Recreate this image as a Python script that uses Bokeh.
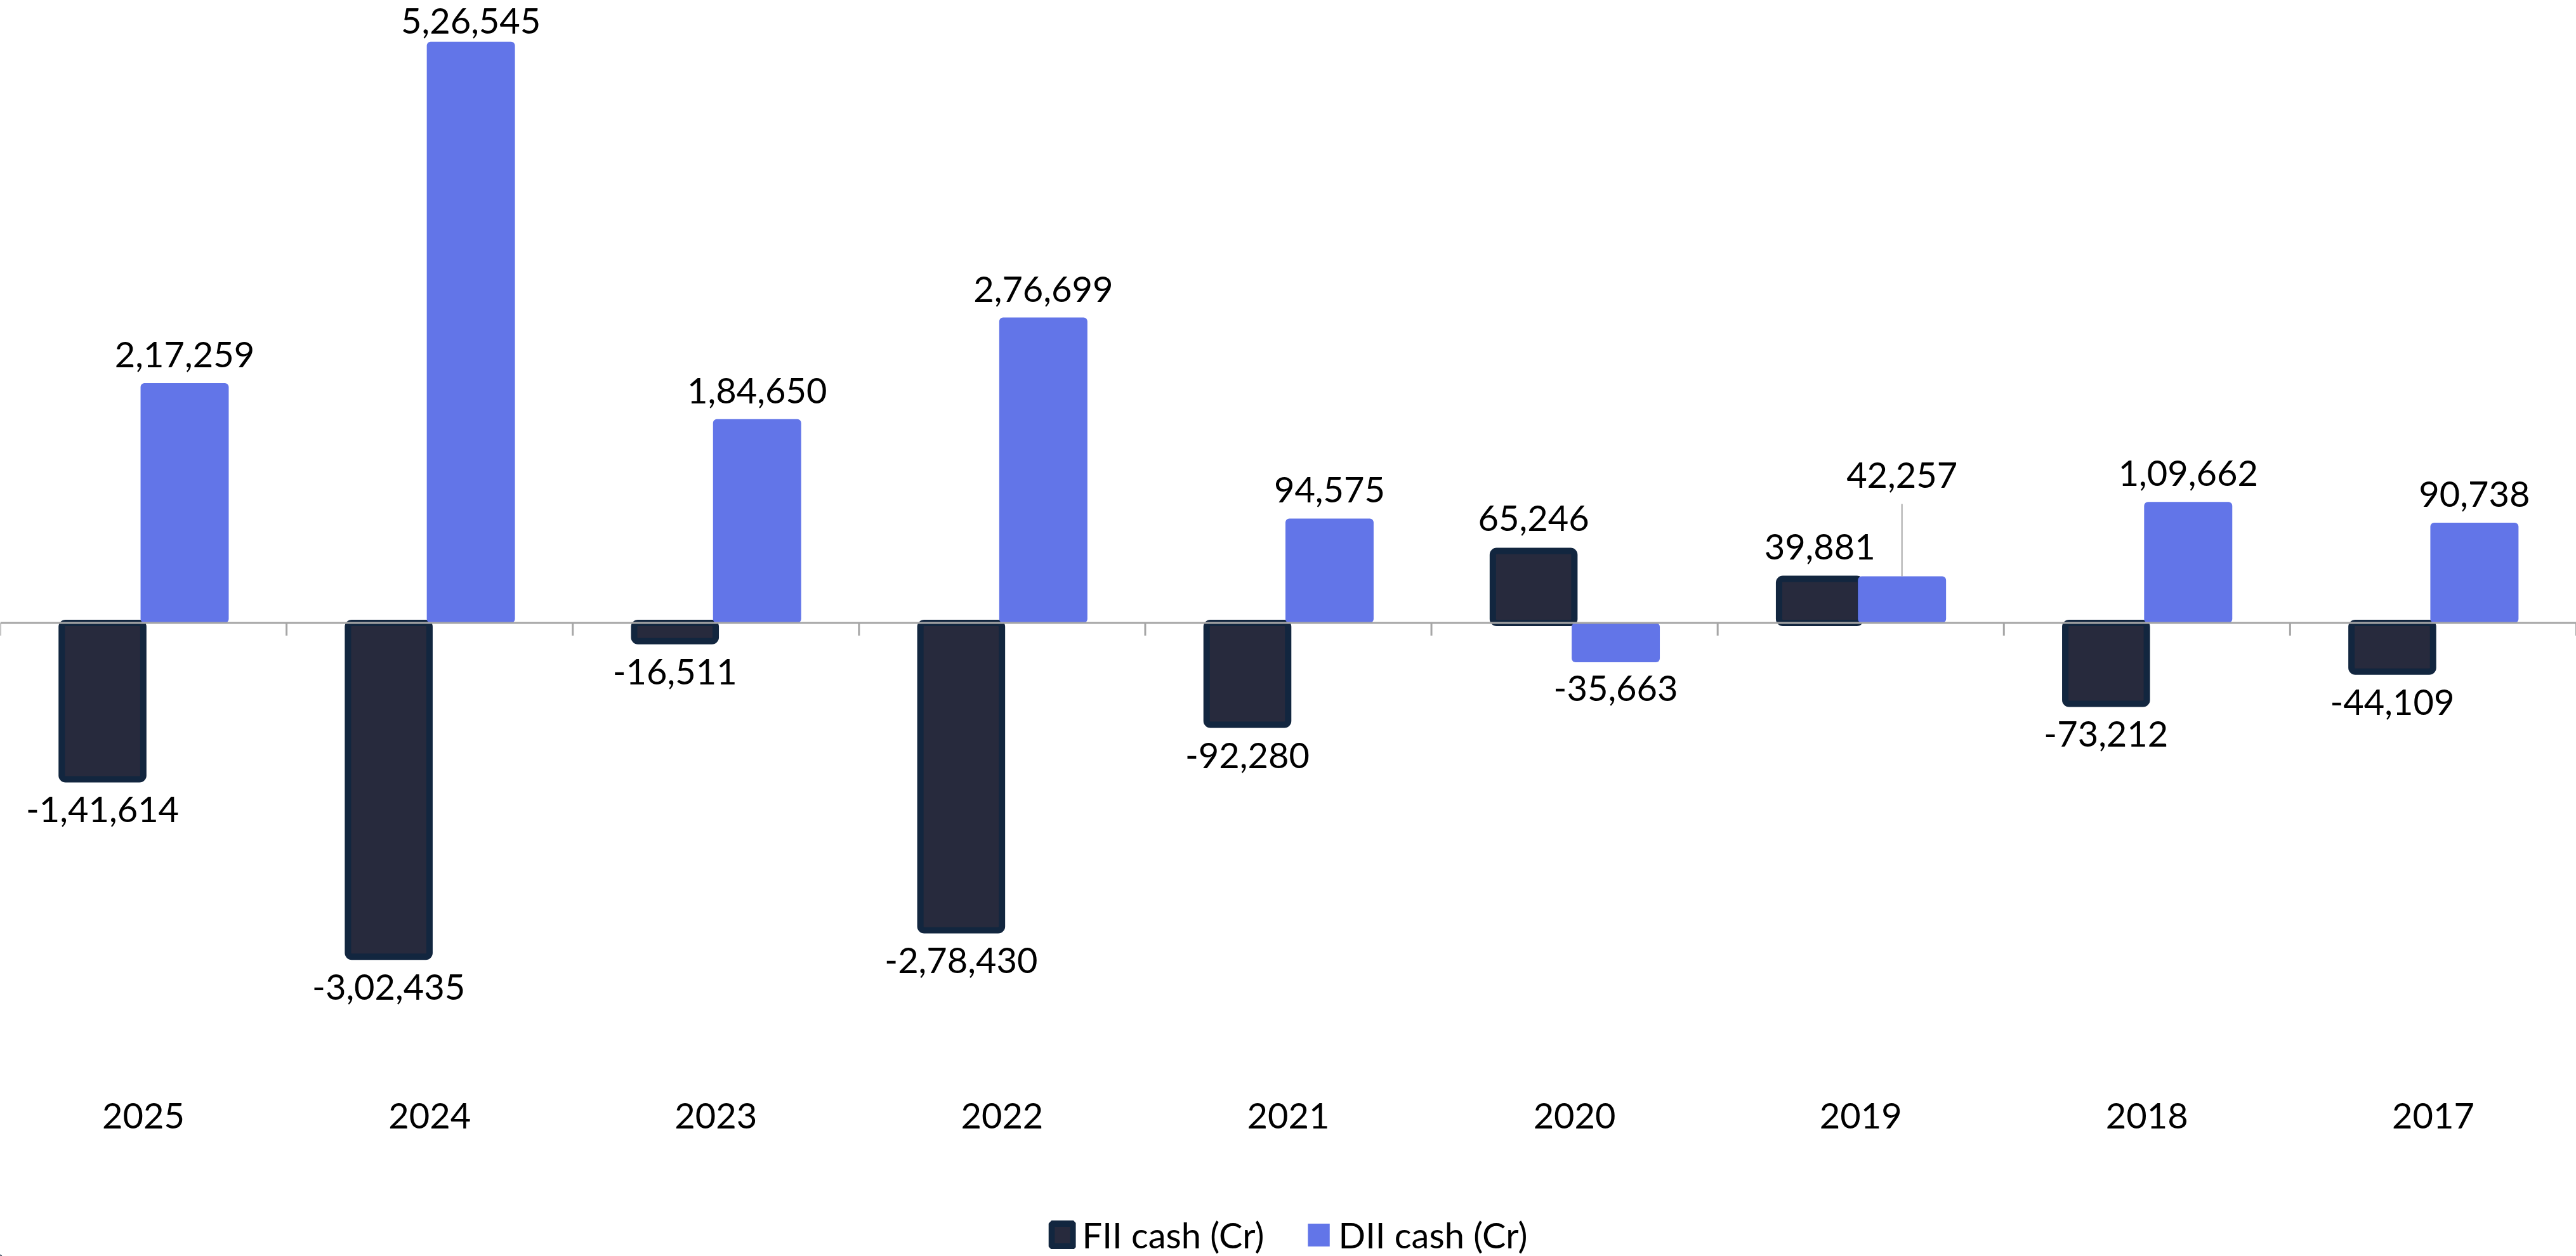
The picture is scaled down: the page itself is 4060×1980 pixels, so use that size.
from bokeh.plotting import figure
from bokeh.layouts import column
from bokeh.models import (Range1d, FixedTicker, Span, Legend, LegendItem, ColumnDataSource)
from bokeh.core.properties import value
from bokeh.embed import file_html
from bokeh.resources import INLINE

years = ["2025", "2024", "2023", "2022", "2021", "2020", "2019", "2018", "2017"]
fii_cash = [-141614, -302435, -16511, -278430, -92280, 65246, 39881, -73212, -44109]
dii_cash = [217259, 526545, 184650, 276699, 94575, -35663, 42257, 109662, 90738]
series_names = ["FII cash (Cr)", "DII cash (Cr)"]

FONT = "Lato"
FII_FILL = "#272A3D"
FII_LINE = "#12263F"
DII_FILL = "#6275E8"
GRAY = "#A6A6A6"

def indian(n):
    s = str(abs(int(n)))
    if len(s) > 3:
        head, tail = s[:-3], s[-3:]
        groups = []
        while len(head) > 2:
            groups.insert(0, head[-2:])
            head = head[:-2]
        if head:
            groups.insert(0, head)
        s = ",".join(groups + [tail])
    return ("-" if n < 0 else "") + s

W = 4060
H_MAIN, H_LEG = 1870, 110
BOTTOM = 170
FRAME_H = H_MAIN - BOTTOM
YMAX, YMIN = 564080, -412931
PX = (YMAX - YMIN) / FRAME_H  # data units per pixel

p = figure(width=W, height=H_MAIN, output_backend="svg", toolbar_location=None,
           x_range=Range1d(-0.5, 8.5), y_range=Range1d(YMIN, YMAX),
           y_axis_location=None, min_border_left=0, min_border_right=0,
           min_border_top=0, min_border_bottom=BOTTOM)
p.outline_line_color = None
p.xgrid.visible = False
p.ygrid.visible = False
p.background_fill_color = "white"

xs = list(range(len(years)))
FII_OFF, DII_OFF = -0.143, 0.144
BAR_STYLE_FII = dict(fill_color=FII_FILL, line_color=FII_LINE, line_width=10, border_radius=6)
BAR_STYLE_DII = dict(fill_color=DII_FILL, line_color=None, border_radius=6)
fii_src = ColumnDataSource(dict(x=[i + FII_OFF for i in xs], top=fii_cash))
dii_src = ColumnDataSource(dict(x=[i + DII_OFF for i in xs], top=dii_cash))

p.vbar(x="x", top="top", bottom=0, width=0.285, source=fii_src, **BAR_STYLE_FII)
p.vbar(x="x", top="top", bottom=0, width=0.308, source=dii_src, **BAR_STYLE_DII)

# baseline and category boundary ticks
p.add_layout(Span(location=0, dimension="width", line_color=GRAY, line_width=3))
bounds = [i - 0.5 for i in range(len(years) + 1)]
p.segment(x0=bounds, y0=[0] * len(bounds), x1=bounds, y1=[-20 * PX] * len(bounds),
          line_color=GRAY, line_width=3)

# data labels
SHIFT = -24   # renderer baseline correction (px)
ASC = 56      # text ascent above the baseline (px), kept inside the frame
LIFT = 114    # px lift of the 2019 DII label (with leader line)
def add_labels(xvals, vals, pos_off, neg_off, lifted=()):
    for sign in (1, -1):
        idx = [i for i, v in enumerate(vals) if (v >= 0) == (sign == 1)]
        offs = []
        for i in idx:
            o = pos_off if sign == 1 else neg_off
            if i in lifted:
                o -= LIFT
            if sign == 1:
                base_px = (YMAX - vals[i]) / PX + o
                if base_px < ASC:
                    o += ASC - base_px
            offs.append(o + SHIFT)
        src = ColumnDataSource(dict(x=[xvals[i] for i in idx], y=[vals[i] for i in idx],
                                    t=[indian(vals[i]) for i in idx], yo=offs))
        p.text(x="x", y="y", text="t", y_offset="yo", source=src,
               text_font=value(FONT), text_font_size="56px", text_color="black",
               text_align="center", text_baseline="alphabetic")

add_labels([i + FII_OFF for i in xs], fii_cash, -27, 72)
lifted_idx = (years.index("2019"),)
add_labels([i + DII_OFF for i in xs], dii_cash, -21, 65, lifted=lifted_idx)
for i in lifted_idx:
    p.segment(x0=[i + DII_OFF], y0=[dii_cash[i]], x1=[i + DII_OFF],
              y1=[dii_cash[i] + LIFT * PX], line_color=GRAY, line_width=2)

# category axis
ax = p.xaxis[0]
ax.ticker = FixedTicker(ticks=xs)
ax.major_label_overrides = {i: years[i] for i in xs}
ax.axis_line_color = None
ax.major_tick_line_color = None
ax.minor_tick_line_color = None
ax.major_tick_out = 0
ax.major_tick_in = 0
ax.major_label_standoff = 38
ax.major_label_text_font = FONT
ax.major_label_text_font_size = "56px"
ax.major_label_text_color = "black"

# legend strip below the chart (swatch renderers sit outside the strip's view)
pl = figure(width=W, height=H_LEG, output_backend="svg", toolbar_location=None,
            x_range=Range1d(0, 1), y_range=Range1d(0, 1),
            x_axis_location=None, y_axis_location=None,
            min_border_left=0, min_border_right=0, min_border_top=0, min_border_bottom=0)
pl.outline_line_color = None
pl.xgrid.visible = False
pl.ygrid.visible = False
lr_fii = pl.vbar(x=[-5], top=[-5], bottom=[-6], width=0.1, **BAR_STYLE_FII)
lr_dii = pl.vbar(x=[-5], top=[-5], bottom=[-6], width=0.1, **BAR_STYLE_DII)
legend = Legend(items=[LegendItem(label=series_names[0], renderers=[lr_fii]),
                       LegendItem(label=series_names[1], renderers=[lr_dii])],
                orientation="horizontal", location="bottom_center",
                label_text_font=FONT, label_text_font_size="56px",
                label_text_color="black",
                glyph_width=43, glyph_height=45, label_standoff=10, spacing=64,
                padding=0, margin=0, border_line_color=None,
                background_fill_alpha=0)
pl.add_layout(legend)

open("out.html", "w").write(file_html(column(p, pl, spacing=0), INLINE))
